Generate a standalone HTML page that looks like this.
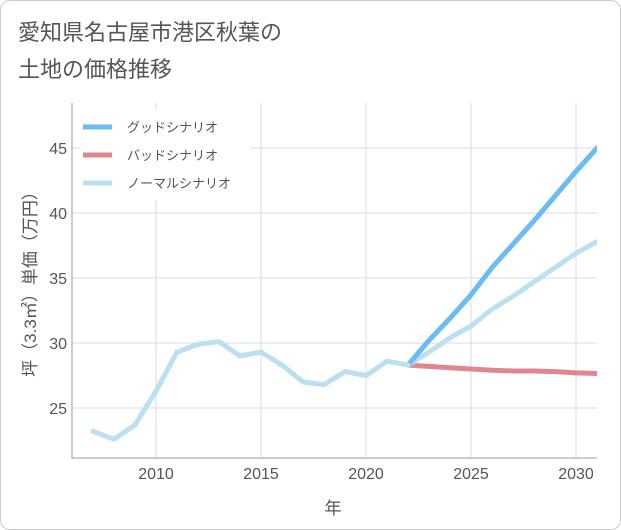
<!DOCTYPE html>
<html><head><meta charset="utf-8"><style>
body{margin:0;background:#fff;font-family:"Liberation Sans","Noto Sans CJK JP",sans-serif}
#card{position:absolute;left:0;top:0;width:619px;height:528px;border:1px solid #ccc;border-radius:10px;background:#fff}
</style></head><body>
<div id="card">
<svg id="chart" width="621" height="530" style="position:absolute;left:-1px;top:-1px">
<defs><clipPath id="plotclip"><rect x="72" y="103" width="525" height="355"/></clipPath></defs>
<text x="18" y="40" font-size="22" fill="#555">愛知県名古屋市港区秋葉の</text>
<text x="18" y="77" font-size="22" fill="#555">土地の価格推移</text>
<text x="333" y="514" font-size="17" fill="#555" text-anchor="middle">年</text>
<text transform="translate(36,280) rotate(-90)" font-size="17" fill="#555" text-anchor="middle">坪（3.3㎡）単価（万円）</text>
</svg></div>
<script>
const years=[2007,2008,2009,2010,2011,2012,2013,2014,2015,2016,2017,2018,2019,2020,2021,2022];
const hist=[23.2,22.6,23.7,26.3,29.3,29.9,30.1,29.0,29.3,28.3,27.0,26.8,27.8,27.5,28.6,28.3];
const futYears=[2022,2023,2024,2025,2026,2027,2028,2029,2030,2031];
const good=[28.3,30.2,31.9,33.7,35.8,37.6,39.4,41.3,43.2,45.0];
const bad=[28.3,28.2,28.1,28.0,27.9,27.85,27.85,27.8,27.7,27.65];
const normal=[28.3,29.3,30.4,31.3,32.6,33.6,34.7,35.8,36.9,37.8];
const xTicks=[2010,2015,2020,2025,2030];
const yTicks=[25,30,35,40,45];
const NS='http://www.w3.org/2000/svg';
const svg=document.getElementById('chart');
const L=72,R=597,T=103,B=458;
const xs=y=>156+(y-2010)*21;
const ys=v=>408-(v-25)*13;
function el(t,a){const e=document.createElementNS(NS,t);for(const k in a)e.setAttribute(k,a[k]);svg.appendChild(e);return e;}
xTicks.forEach(t=>{const g=el('line',{x1:xs(t),x2:xs(t),y1:T,y2:B,stroke:'#d5dde6'});


const tx=el('text',{x:xs(t),y:B+21,'font-size':16,fill:'#555','text-anchor':'middle'});tx.textContent=t;

});
yTicks.forEach(t=>{const g=el('line',{x1:L,x2:R,y1:ys(t),y2:ys(t),stroke:'#d5dde6'});


const tx=el('text',{x:L-5,y:ys(t)+6,'font-size':16,fill:'#555','text-anchor':'end'});tx.textContent=t;

});
const ax=el('path',{d:`M${L},${T}V${B}H${R}`,stroke:'#999',fill:'none'});


function line(xsArr,vals,color,name){const d=vals.map((v,i)=>(i?'L':'M')+xs(xsArr[i])+','+ys(v)).join('');
const p=el('path',{d,stroke:color,'stroke-width':5,fill:'none','stroke-linejoin':'round','stroke-linecap':'round','clip-path':'url(#plotclip)'});

}
line(futYears,bad,'#e0868f','bad-scenario-line');
line(futYears,normal,'#bde0f0','normal-scenario-line');
line(futYears,good,'#6bbcf2','good-scenario-line');
line(years,hist,'#bde0f0','historical-line');
const lb=el('rect',{x:80,y:110,width:170,height:90,fill:'#fff'});


[['グッドシナリオ','#6bbcf2'],['バッドシナリオ','#e0868f'],['ノーマルシナリオ','#bde0f0']].forEach((d,i)=>{
const y=127+i*28;
const s=el('line',{x1:83,x2:112,y1:y,y2:y,stroke:d[1],'stroke-width':5});


const t=el('text',{x:127,y:y+5,'font-size':13,fill:'#555'});t.textContent=d[0];

});
</script></body></html>
